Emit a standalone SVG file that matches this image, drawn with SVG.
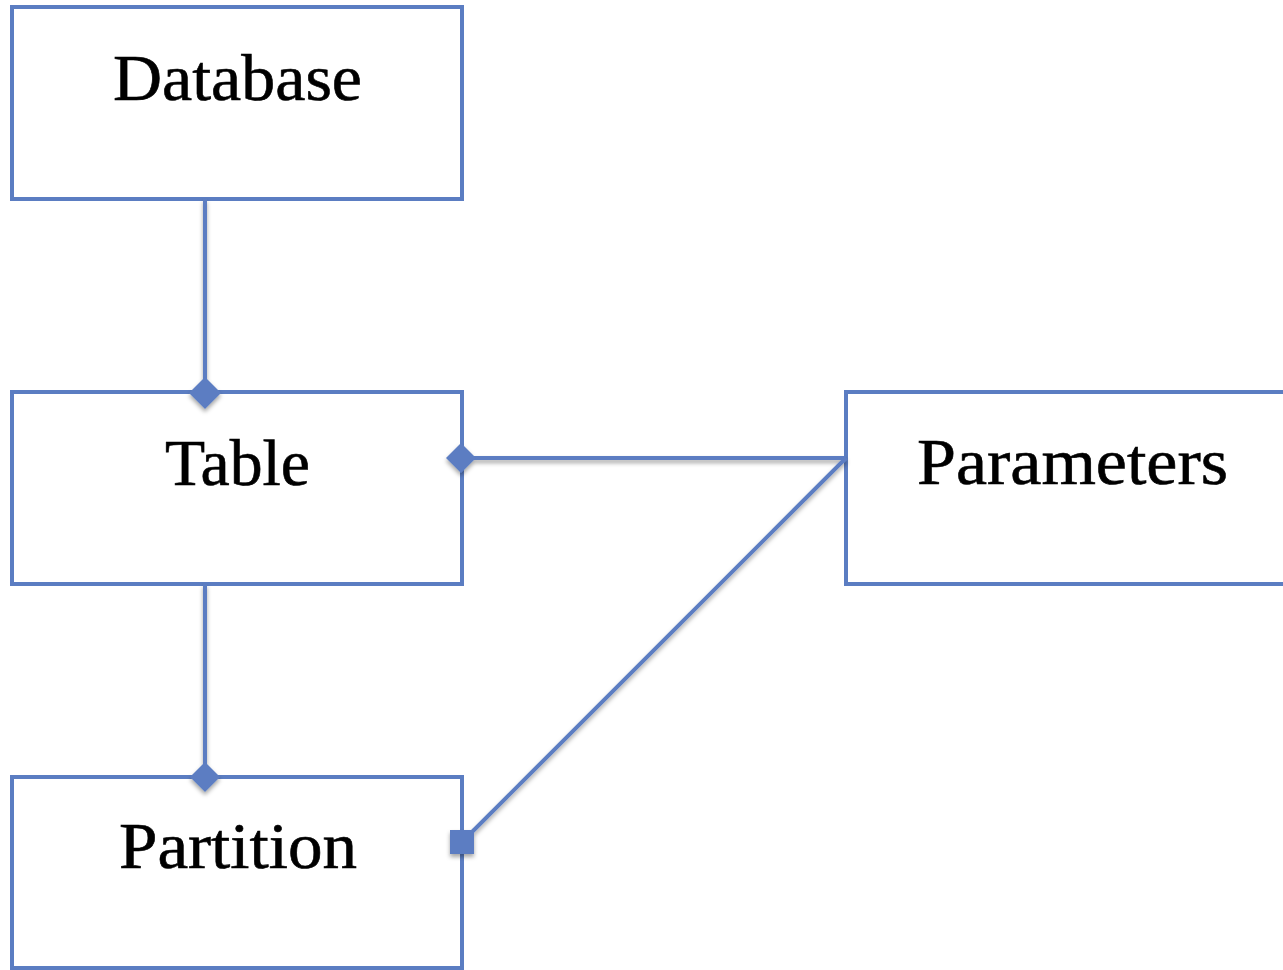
<svg xmlns="http://www.w3.org/2000/svg" width="1283" height="970" viewBox="0 0 1283 970">
  <defs>
    <filter id="shadow" x="-20%" y="-20%" width="140%" height="160%">
      <feDropShadow dx="0" dy="3" stdDeviation="2" flood-color="#000" flood-opacity="0.35"/>
    </filter>
  </defs>
  <style>
    .box { fill: #ffffff; stroke: #5b7dc2; stroke-width: 4; }
    .label { font-family: "Liberation Serif", "DejaVu Serif", serif; font-size: 65px; fill: #000; stroke: #000; stroke-width: 0.6; text-anchor: middle; }
    .link { stroke: #5b7dc2; stroke-width: 4; fill: none; }
    .end { fill: #5b7dc2; stroke: none; }
  </style>
  <rect width="1283" height="970" fill="#ffffff"/>

  <g id="database">
    <rect class="box" x="12" y="7" width="450" height="192"/>
    <text class="label" x="237.5" y="100" textLength="249" lengthAdjust="spacingAndGlyphs">Database</text>
  </g>
  <g id="table">
    <rect class="box" x="12" y="392" width="450" height="192"/>
    <text class="label" x="237.5" y="485" textLength="145" lengthAdjust="spacingAndGlyphs">Table</text>
  </g>
  <g id="partition">
    <rect class="box" x="12" y="777" width="450" height="191"/>
    <text class="label" x="238" y="868" textLength="238" lengthAdjust="spacingAndGlyphs">Partition</text>
  </g>
  <g id="parameters">
    <rect class="box" x="846" y="392" width="460" height="192"/>
    <text class="label" x="1072.5" y="484" textLength="311" lengthAdjust="spacingAndGlyphs">Parameters</text>
  </g>

  <g id="connectors" filter="url(#shadow)">
    <!-- Database to Table -->
    <line class="link" x1="205" y1="199" x2="205" y2="393"/>
    <polygon class="end" points="205,377 221,393 205,409 189,393"/>
    <!-- Table to Partition -->
    <line class="link" x1="205" y1="584" x2="205" y2="777"/>
    <polygon class="end" points="205,762 220,777 205,792 190,777"/>
    <!-- Table to Parameters -->
    <line class="link" x1="462" y1="458" x2="846" y2="458"/>
    <polygon class="end" points="461,443 476,458 461,473 446,458"/>
    <!-- Parameters to Partition -->
    <line class="link" x1="846" y1="458" x2="470" y2="834"/>
    <rect class="end" x="450" y="830" width="24" height="24"/>
  </g>
</svg>
